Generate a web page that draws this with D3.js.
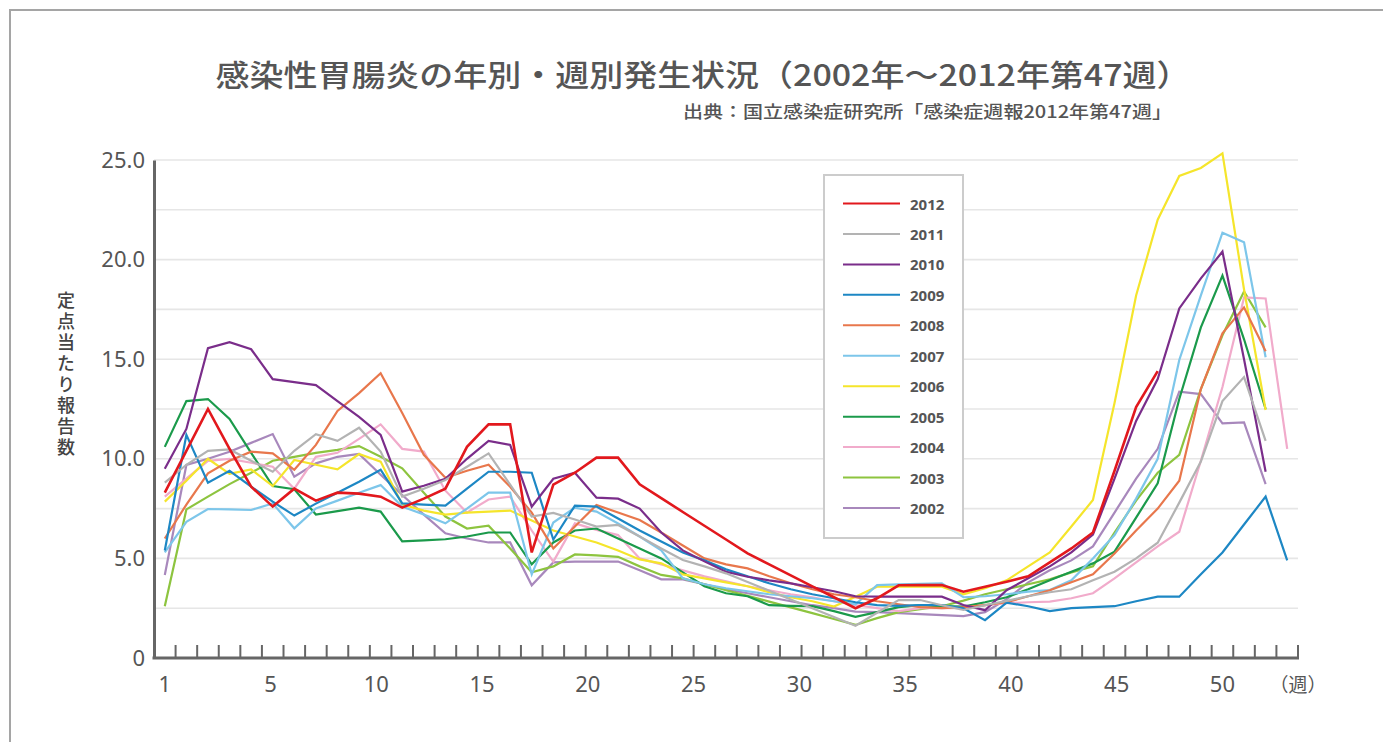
<!DOCTYPE html>
<html><head><meta charset="utf-8">
<script src="https://cdn.jsdelivr.net/npm/d3@7"></script>
<style>
html,body{margin:0;padding:0;background:#fff;}
svg{display:block;}
</style></head>
<body>
<svg id="chart" width="1383" height="742"></svg>
<script>
// ---- data ----
const weeks = d3.range(1, 54); // weeks 1..53
const yTicks = [0, 5, 10, 15, 20, 25];
const xLabels = ["1", "5", "10", "15", "20", "25", "30", "35", "40", "45", "50"];
const xLabelWeeks = [1, 50]; // first and last label anchor weeks
const years = ["2012", "2011", "2010", "2009", "2008", "2007", "2006", "2005", "2004", "2003", "2002"];
const colors = ["#e2181d", "#b3b3b3", "#7a2d8a", "#1d87c4", "#e8774c", "#7dc6ea", "#f5e52b", "#1b9a4b", "#f1abcb", "#8dc43f", "#a888bc"];

const v2012 = [8.3,10.4,12.5,10.5,8.6,7.6,8.5,7.9,8.3,8.25,8.1,7.55,8.0,8.5,10.6,11.73,11.73,5.3,8.7,9.3,10.06,10.06,8.72,8.03,7.33,6.64,5.95,5.25,4.7,4.15,3.6,3.05,2.5,3.0,3.65,3.66,3.66,3.33,3.58,3.83,4.1,4.8,5.5,6.3,9.4,12.6,14.4];
const v2011 = [8.8,9.7,10.4,10.47,9.9,9.35,10.4,11.24,10.9,11.56,10.36,8.1,8.5,8.94,9.6,10.27,8.7,7.1,7.28,6.95,6.6,6.68,6.1,5.5,4.92,4.6,4.25,3.82,3.38,2.94,2.5,2.06,1.62,2.27,2.91,2.91,2.65,2.41,2.65,2.87,3.1,3.3,3.45,3.9,4.33,5.0,5.79,7.8,9.86,12.9,14.1,10.9];
const v2010 = [9.5,11.5,15.55,15.85,15.5,14.0,13.85,13.7,12.9,12.1,11.2,8.35,8.65,9.0,10.0,10.9,10.7,7.6,9.0,9.3,8.05,8.0,7.5,6.3,5.4,4.85,4.33,4.08,3.9,3.75,3.55,3.35,3.1,3.08,3.08,3.08,3.08,2.66,2.4,3.4,4.0,4.6,5.3,6.2,9.0,11.9,14.0,17.55,19.06,20.4,15.0,9.35];
const v2009 = [5.4,11.2,8.8,9.4,8.6,7.85,7.15,7.75,8.3,8.85,9.45,7.76,7.7,7.65,8.5,9.35,9.35,9.3,5.95,7.65,7.6,7.0,6.4,5.85,5.3,4.9,4.45,4.1,3.75,3.45,3.2,3.0,2.8,2.65,2.62,2.66,2.66,2.5,1.9,2.78,2.6,2.35,2.5,2.55,2.6,2.85,3.08,3.08,4.2,5.3,6.7,8.1,4.9];
const v2008 = [6.0,7.7,9.27,9.9,10.36,10.27,9.45,10.7,12.4,13.3,14.3,12.3,10.2,9.05,9.4,9.7,8.6,7.3,5.5,6.6,7.68,7.3,6.93,6.3,5.65,5.0,4.7,4.5,4.1,3.75,3.45,3.2,3.05,2.85,2.7,2.55,2.5,2.55,2.65,2.8,3.1,3.4,3.8,4.2,5.25,6.4,7.5,8.9,13.5,16.3,17.6,15.4];
const v2007 = [5.3,6.84,7.48,7.46,7.43,7.76,6.51,7.51,7.9,8.3,8.68,7.6,7.2,6.76,7.5,8.3,8.3,4.2,6.8,7.55,7.35,6.75,6.1,5.4,4.0,3.7,3.5,3.35,3.2,3.1,3.0,2.85,2.7,3.66,3.7,3.72,3.75,3.05,3.1,3.2,3.33,3.41,3.9,5.0,6.17,8.0,10.0,14.96,18.2,21.35,20.87,15.1];
const v2006 = [7.85,8.9,10.0,9.24,9.47,8.63,9.94,9.7,9.47,10.24,9.86,7.7,7.4,7.2,7.3,7.35,7.4,6.9,6.4,6.1,5.8,5.4,4.95,4.75,4.2,4.0,3.8,3.6,3.3,3.05,2.85,2.58,3.08,3.58,3.58,3.58,3.58,3.2,3.5,3.9,4.6,5.3,6.6,7.93,12.8,18.2,22.0,24.2,24.6,25.33,18.5,12.45];
const v2005 = [10.6,12.9,13.0,12.0,10.3,8.63,8.47,7.2,7.37,7.55,7.35,5.85,5.9,5.96,6.1,6.3,6.3,4.7,5.8,6.4,6.5,6.0,5.5,5.0,4.3,3.6,3.25,3.1,2.65,2.62,2.6,2.35,2.07,2.3,2.55,2.65,2.6,2.58,2.8,3.05,3.45,3.9,4.33,4.75,5.34,7.05,8.77,13.0,16.6,19.2,16.0,12.5];
const v2004 = [8.1,9.0,9.9,10.0,9.8,9.6,8.5,10.1,10.3,11.0,11.73,10.5,10.36,8.4,7.3,7.96,8.1,6.4,4.84,6.76,6.43,6.17,5.0,4.7,4.4,4.1,3.85,3.6,3.4,3.2,3.05,2.85,2.66,2.5,2.35,2.5,2.5,2.5,2.65,2.75,2.8,2.83,3.0,3.25,4.0,4.8,5.6,6.34,9.9,13.6,18.1,18.05,10.5];
const v2003 = [2.6,7.46,8.1,8.73,9.3,9.9,10.1,10.3,10.45,10.64,10.1,9.52,8.3,7.1,6.5,6.64,5.5,4.3,4.6,5.2,5.15,5.08,4.6,4.17,4.0,3.7,3.4,3.12,2.83,2.54,2.25,1.96,1.66,2.0,2.3,2.45,2.6,2.88,3.2,3.45,3.7,3.95,4.3,4.6,6.3,7.9,9.3,10.2,13.5,16.2,18.4,16.6];
const v2002 = [4.17,9.69,10.0,10.35,10.8,11.24,9.1,9.77,10.1,10.24,9.2,8.18,7.2,6.26,6.0,5.8,5.8,3.65,4.8,4.84,4.84,4.84,4.4,3.95,3.95,3.7,3.45,3.25,3.05,2.85,2.65,2.5,2.33,2.3,2.25,2.2,2.15,2.1,2.3,2.95,3.8,4.4,4.9,5.6,7.3,9.0,10.5,13.37,13.25,11.78,11.83,8.73];

const seriesValues = [v2012, v2011, v2010, v2009, v2008, v2007, v2006, v2005, v2004, v2003, v2002];

const titleText = "感染性胃腸炎の年別・週別発生状況（2002年～2012年第47週）";
const sourceText = "出典：国立感染症研究所「感染症週報2012年第47週」";
const yTitle = "定点当たり報告数";
const xUnit = "（週）";

// ---- drawing ----
const svg = d3.select("#chart");
const textColor = "#555";
const axisColor = "#666";
const numFont = "'Noto Sans', 'Open Sans', sans-serif";
const jpFont = "'Noto Sans CJK JP', 'Noto Sans', sans-serif";

const x = d3.scaleBand().domain(weeks).range([154, 1298]);
const xc = w => x(w) + x.bandwidth() / 2;
const y = d3.scaleLinear().domain([0, 25]).range([658, 160]);

// frame
svg.append("path").attr("d", "M10,742V10H1383").attr("fill", "none")
  .attr("stroke", "#a5a5a5").attr("stroke-width", 2);

// title
svg.append("text").attr("x", 703).attr("y", 73)
  .attr("text-anchor", "middle").attr("dominant-baseline", "central")
  .attr("font-family", jpFont).attr("font-size", 30).attr("font-weight", 500)
  .attr("fill", textColor).attr("textLength", 975).attr("lengthAdjust", "spacingAndGlyphs")
  .text(titleText);
svg.append("text").attr("x", 1172).attr("y", 110)
  .attr("text-anchor", "end").attr("dominant-baseline", "central")
  .attr("font-family", jpFont).attr("font-size", 17).attr("font-weight", 500)
  .attr("fill", textColor).attr("textLength", 489).attr("lengthAdjust", "spacingAndGlyphs")
  .text(sourceText);

// gridlines
const grid = d3.range(2.5, 25.01, 2.5);
svg.append("g").selectAll("line").data(grid).join("line")
  .attr("x1", 154).attr("x2", 1298)
  .attr("y1", d => y(d)).attr("y2", d => y(d))
  .attr("stroke", "#e6e6e6").attr("stroke-width", 1.6);

// y axis
const yAxis = svg.append("g").attr("transform", "translate(154,0)")
  .call(d3.axisLeft(y).tickValues(yTicks).tickSize(0).tickPadding(9)
    .tickFormat(d => d === 0 ? "0" : d3.format(".1f")(d)));
yAxis.select(".domain").attr("stroke", axisColor).attr("stroke-width", 3);
yAxis.selectAll("text").attr("font-family", numFont).attr("font-size", 22)
  .attr("fill", textColor);

// y title (vertical)
svg.append("text").attr("x", 66).attr("y", 375)
  .attr("text-anchor", "middle")
  .style("writing-mode", "vertical-rl")
  .attr("font-family", jpFont).attr("font-size", 18).attr("font-weight", 500)
  .attr("letter-spacing", 3)
  .attr("fill", "#444").text(yTitle);

// lines (oldest first so 2012 is on top)
const line = d3.line().x(d => xc(d.w)).y(d => y(d.v));
const series = years.map((yr, i) => ({
  year: yr, color: colors[i],
  pts: seriesValues[i].map((v, j) => ({ w: weeks[j], v }))
}));
svg.append("g").selectAll("path").data(series.slice().reverse()).join("path")
  .attr("d", d => line(d.pts))
  .attr("fill", "none")
  .attr("stroke", d => d.color)
  .attr("stroke-width", d => d.year === "2012" ? 2.6 : 2.2)
  .attr("stroke-linejoin", "miter");

// x axis baseline and ticks
svg.append("line").attr("x1", 152.5).attr("x2", 1299).attr("y1", y(0)).attr("y2", y(0))
  .attr("stroke", axisColor).attr("stroke-width", 3);
svg.append("g").selectAll("line").data(weeks).join("line")
  .attr("x1", d => x(d) + x.bandwidth()).attr("x2", d => x(d) + x.bandwidth())
  .attr("y1", y(0)).attr("y2", y(0) - 13)
  .attr("stroke", axisColor).attr("stroke-width", 2);

// x labels evenly spread between week 1 and week 50 positions
const xl = d3.scaleLinear().domain([0, xLabels.length - 1])
  .range([xc(xLabelWeeks[0]), xc(xLabelWeeks[1])]);
svg.append("g").selectAll("text").data(xLabels).join("text")
  .attr("x", (d, i) => xl(i)).attr("y", 683)
  .attr("text-anchor", "middle").attr("dominant-baseline", "central")
  .attr("font-family", numFont).attr("font-size", 22).attr("fill", textColor)
  .text(d => d);
svg.append("text").attr("x", 1298).attr("y", 683)
  .attr("text-anchor", "middle").attr("dominant-baseline", "central")
  .attr("font-family", jpFont).attr("font-size", 19).attr("fill", textColor)
  .text(xUnit);

// legend
const lg = svg.append("g");
lg.append("rect").attr("x", 824).attr("y", 175).attr("width", 139).attr("height", 363)
  .attr("fill", "#fff").attr("stroke", "#cccccc").attr("stroke-width", 2);
const ly = d3.scalePoint().domain(years).range([203.5, 508]);
const items = lg.selectAll("g.item").data(series).join("g").attr("class", "item");
items.append("line").attr("x1", 843).attr("x2", 900)
  .attr("y1", d => ly(d.year)).attr("y2", d => ly(d.year))
  .attr("stroke", d => d.color).attr("stroke-width", 2);
items.append("text").attr("x", 910).attr("y", d => ly(d.year))
  .attr("dominant-baseline", "central")
  .attr("font-family", numFont).attr("font-size", 15).attr("font-weight", 700)
  .attr("fill", textColor).text(d => d.year);
</script>
</body></html>
